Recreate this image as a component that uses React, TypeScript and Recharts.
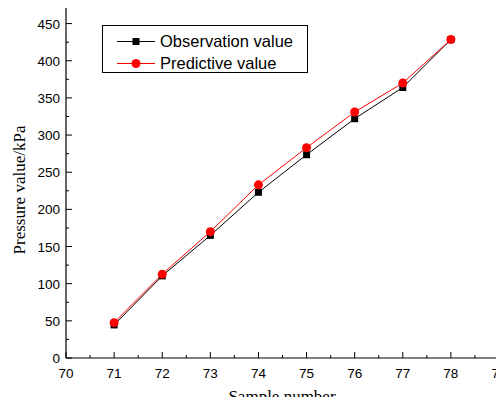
import { LineChart, Line, XAxis, YAxis } from 'recharts';

const samples = [71, 72, 73, 74, 75, 76, 77, 78];
const observed = [44.5, 110.5, 165, 223, 273.5, 322, 364, 428.5];
const predicted = [47.6, 112.8, 170, 233, 283, 331, 370, 428.5];

const xTicks = [70, 70.5, 71, 71.5, 72, 72.5, 73, 73.5, 74, 74.5, 75, 75.5, 76, 76.5, 77, 77.5, 78, 78.5, 79];
const yTicks = [0, 25, 50, 75, 100, 125, 150, 175, 200, 225, 250, 275, 300, 325, 350, 375, 400, 425, 450, 475];

const data = samples.map((s, i) => ({ sample: s, obs: observed[i], pred: predicted[i] }));

const tickFont = '"Liberation Sans", Arial, sans-serif';
const titleFont = '"Liberation Serif", "Times New Roman", serif';

const XTick = (props: any) => {
  const { x, y, payload } = props;
  const major = Number.isInteger(payload.value);
  return (
    <g>
      <line x1={x} x2={x} y1={y} y2={y - (major ? 6 : 3)} stroke="#000" strokeWidth={1} />
      {major && (
        <text x={x} y={y + 20} textAnchor="middle" fontSize={13.5} fontFamily={tickFont} fill="#000">
          {payload.value}
        </text>
      )}
    </g>
  );
};

const YTick = (props: any) => {
  const { x, y, payload } = props;
  const major = payload.value % 50 === 0;
  const showLabel = major && payload.value <= 450;
  return (
    <g>
      <line x1={x} x2={x + (major ? 6 : 3)} y1={y} y2={y} stroke="#000" strokeWidth={1} />
      {showLabel && (
        <text x={x - 6} y={y + 5} textAnchor="end" fontSize={13.5} fontFamily={tickFont} fill="#000">
          {payload.value}
        </text>
      )}
    </g>
  );
};

const XTitle = () => (
  <text x={282} y={402} textAnchor="middle" fontSize={17} fontFamily={titleFont} fill="#000">
    Sample number
  </text>
);

const YTitle = () => (
  <text x={25} y={190} transform="rotate(-90 25 190)" textAnchor="middle" fontSize={17} fontFamily={titleFont} fill="#000">
    Pressure value/kPa
  </text>
);

const Square = (props: any) => {
  const { cx, cy } = props;
  if (cx == null || cy == null) return null;
  return <rect x={cx - 3.5} y={cy - 3.5} width={7} height={7} fill="#000" />;
};

const LegendBox = () => (
  <svg width={206} height={48} style={{ display: 'block' }}>
    <rect x={0.5} y={0.5} width={205} height={47} fill="#fff" stroke="#000" strokeWidth={1} />
    <line x1={15} x2={53} y1={16.5} y2={16.5} stroke="#000" strokeWidth={1} />
    <rect x={30.5} y={13} width={7} height={7} fill="#000" />
    <text x={58} y={22} fontSize={16.5} fontFamily={tickFont} fill="#000">Observation value</text>
    <line x1={15} x2={53} y1={38.5} y2={38.5} stroke="#ff0000" strokeWidth={1} />
    <circle cx={34} cy={38.5} r={4.5} fill="#ff0000" />
    <text x={58} y={44} fontSize={16.5} fontFamily={tickFont} fill="#000">Predictive value</text>
  </svg>
);

export default function App() {
  return (
    <div style={{ margin: -8, width: 504, height: 405, background: '#fff', position: 'relative' }}>
      <LineChart width={504} height={405} data={data} margin={{ top: 5, right: 5, bottom: 0, left: 0 }}>
        <XAxis
          dataKey="sample"
          type="number"
          domain={[70, 79]}
          ticks={xTicks}
          interval={0}
          tickSize={0}
          tickMargin={0}
          tickLine={false}
          tick={<XTick />}
          axisLine={{ stroke: '#000', strokeWidth: 1.2 }}
          height={47}
          label={<XTitle />}
        />
        <YAxis
          type="number"
          domain={[0, 475]}
          ticks={yTicks}
          interval={0}
          tickSize={0}
          tickMargin={0}
          tickLine={false}
          tick={<YTick />}
          axisLine={{ stroke: '#000', strokeWidth: 1.2 }}
          width={66}
          label={<YTitle />}
        />
        <Line dataKey="obs" name="Observation value" stroke="#000" strokeWidth={1} dot={<Square />} isAnimationActive={false} />
        <Line dataKey="pred" name="Predictive value" stroke="#ff0000" strokeWidth={1} dot={{ r: 4.5, fill: '#ff0000', stroke: '#ff0000', strokeWidth: 0 }} isAnimationActive={false} />
      </LineChart>
      <div style={{ position: 'absolute', left: 102, top: 25 }}>
        <LegendBox />
      </div>
    </div>
  );
}
